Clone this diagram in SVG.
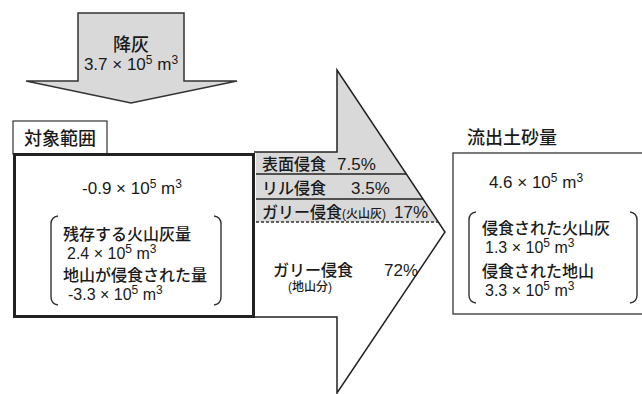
<svg xmlns="http://www.w3.org/2000/svg" width="642" height="394" viewBox="0 0 642 394">
<style>
text{font-family:"Liberation Sans","Noto Sans CJK JP",sans-serif;fill:#1a1a1a}
.n{font-size:17px}
.n2{font-size:16px}
.j{font-size:16px;font-weight:500}
.t{font-size:18px;font-weight:500}
.s{font-size:12px}
.sm{font-size:12px;font-weight:500}
.gray{fill:#d9d9d9;stroke:none}
.ln{fill:none;stroke:#222;stroke-width:1.5}
.br{fill:none;stroke:#333;stroke-width:1.4}
</style>
<g id="connectors">
<g id="fall-arrow">
<path d="M78,13 H184 V81 H237 L131,103 L26,81 H78 Z" fill="#d9d9d9" stroke="#333" stroke-width="1.5"/>
<text class="t" x="131" y="51" text-anchor="middle">降灰</text>
<text class="n" x="131" y="70" text-anchor="middle">3.7 × 10<tspan class="s" dy="-6">5</tspan><tspan dy="6"> m</tspan><tspan class="s" dy="-6">3</tspan></text>
</g>
<g id="outflow-arrow">
<path d="M337,70 L438,222 H256 V152 H337 Z" class="gray"/>
<path d="M256,222 H438 L445,232 L337,393 V317 H256 Z" fill="#fff"/>
<path d="M254,152 H337 V70 L445,232 L337,393 V317 H254" class="ln"/>
<line x1="256" y1="174" x2="406" y2="174" class="ln" stroke-width="1.2"/>
<line x1="256" y1="199" x2="423" y2="199" class="ln" stroke-width="1.2"/>
<line x1="256" y1="222" x2="438" y2="222" stroke="#333" stroke-width="1.3" stroke-dasharray="3,2"/>
</g>
</g>
<g id="band-surface">
<text class="j" x="262" y="170">表面侵食</text>
<text class="n" x="337" y="170">7.5%</text>
</g>
<g id="band-rill">
<text class="j" x="262" y="194">リル侵食</text>
<text class="n" x="351" y="194">3.5%</text>
</g>
<g id="band-gully-ash">
<text class="j" x="262" y="218">ガリー侵食<tspan class="sm">(火山灰)</tspan></text>
<text class="n" x="394" y="218">17%</text>
</g>
<g id="band-gully-ground">
<text class="j" x="273" y="276">ガリー侵食</text>
<text class="n" x="384" y="276">72%</text>
<text class="sm" x="310" y="291" text-anchor="middle">(地山分)</text>
</g>
<g id="target-label">
<rect x="13" y="121" width="94" height="33" fill="#fff" stroke="#333" stroke-width="1.2"/>
<text class="t" x="60" y="145" text-anchor="middle">対象範囲</text>
</g>
<g id="target-area">
<rect x="14.5" y="154.5" width="239" height="162" fill="#fff" stroke="#222" stroke-width="3"/>
<text class="n" x="132" y="194" text-anchor="middle">-0.9 × 10<tspan class="s" dy="-6">5</tspan><tspan dy="6"> m</tspan><tspan class="s" dy="-6">3</tspan></text>
<path d="M58,216 Q51,217 51,224 V297 Q51,304 58,305" class="br"/>
<path d="M214,216 Q221,217 221,224 V297 Q221,304 214,305" class="br"/>
<text class="j" x="63" y="240">残存する火山灰量</text>
<text class="n2" x="67" y="259">2.4 × 10<tspan class="s" dy="-6">5</tspan><tspan dy="6"> m</tspan><tspan class="s" dy="-6">3</tspan></text>
<text class="j" x="63" y="281">地山が侵食された量</text>
<text class="n2" x="68" y="300">-3.3 × 10<tspan class="s" dy="-6">5</tspan><tspan dy="6"> m</tspan><tspan class="s" dy="-6">3</tspan></text>
</g>
<g id="outflow-label">
<text class="t" x="467" y="144">流出土砂量</text>
</g>
<g id="outflow-box">
<rect x="453" y="153" width="200" height="161" fill="#fff" stroke="#333" stroke-width="1.3"/>
<text class="n" x="536" y="188" text-anchor="middle">4.6 × 10<tspan class="s" dy="-6">5</tspan><tspan dy="6"> m</tspan><tspan class="s" dy="-6">3</tspan></text>
<path d="M476,212 Q469,213 469,220 V295 Q469,302 476,303" class="br"/>
<path d="M630,212 Q637,213 637,220 V295 Q637,302 630,303" class="br"/>
<text class="j" x="482" y="234">侵食された火山灰</text>
<text class="n2" x="485" y="253">1.3 × 10<tspan class="s" dy="-6">5</tspan><tspan dy="6"> m</tspan><tspan class="s" dy="-6">3</tspan></text>
<text class="j" x="482" y="277">侵食された地山</text>
<text class="n2" x="485" y="296">3.3 × 10<tspan class="s" dy="-6">5</tspan><tspan dy="6"> m</tspan><tspan class="s" dy="-6">3</tspan></text>
</g>
</svg>
